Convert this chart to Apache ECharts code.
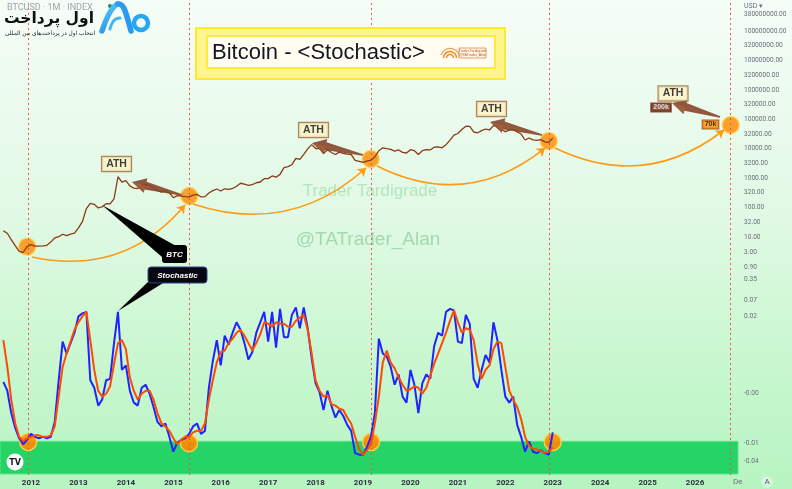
<!DOCTYPE html>
<html><head><meta charset="utf-8">
<script src="https://cdn.jsdelivr.net/npm/echarts@6/dist/echarts.min.js"></script>
<style>html,body{margin:0;padding:0;background:#fff}#c{width:792px;height:489px}</style>
</head><body><div id="c"></div>
<script>
// ---------- DATA ----------
const months = [
'2011-06','2011-07','2011-08','2011-09','2011-10','2011-11','2011-12',
'2012-01','2012-02','2012-03','2012-04','2012-05','2012-06','2012-07','2012-08','2012-09','2012-10','2012-11','2012-12',
'2013-01','2013-02','2013-03','2013-04','2013-05','2013-06','2013-07','2013-08','2013-09','2013-10','2013-11','2013-12',
'2014-01','2014-02','2014-03','2014-04','2014-05','2014-06','2014-07','2014-08','2014-09','2014-10','2014-11','2014-12',
'2015-01','2015-02','2015-03','2015-04','2015-05','2015-06','2015-07','2015-08','2015-09','2015-10','2015-11','2015-12',
'2016-01','2016-02','2016-03','2016-04','2016-05','2016-06','2016-07','2016-08','2016-09','2016-10','2016-11','2016-12',
'2017-01','2017-02','2017-03','2017-04','2017-05','2017-06','2017-07','2017-08','2017-09','2017-10','2017-11','2017-12',
'2018-01','2018-02','2018-03','2018-04','2018-05','2018-06','2018-07','2018-08','2018-09','2018-10','2018-11','2018-12',
'2019-01','2019-02','2019-03','2019-04','2019-05','2019-06','2019-07','2019-08','2019-09','2019-10','2019-11','2019-12',
'2020-01','2020-02','2020-03','2020-04','2020-05','2020-06','2020-07','2020-08','2020-09','2020-10','2020-11','2020-12',
'2021-01','2021-02','2021-03','2021-04','2021-05','2021-06','2021-07','2021-08','2021-09','2021-10','2021-11','2021-12',
'2022-01','2022-02','2022-03','2022-04','2022-05','2022-06','2022-07','2022-08','2022-09','2022-10','2022-11','2022-12',
'2023-01'];

const btcClose = [
16.1,13.4,8.2,5.1,3.25,2.97,4.72,
5.5,4.9,4.9,5.0,5.2,6.7,9.35,10.2,12.4,11.2,12.6,13.5,
20.4,33.4,93,139,129,97,106,135,133,198,1120,732,
829,550,458,446,560,600,560,470,386,338,378,320,
217,254,244,236,230,264,284,230,236,314,377,430,
368,437,416,448,531,673,624,575,609,700,742,963,
970,1190,1080,1348,2300,2480,2875,4700,4340,6470,9950,13850,
10220,10330,6930,9240,7500,6390,7730,7030,6630,6370,4040,3740,
3460,3810,4100,5320,8570,10820,10080,9600,8300,9150,7570,7190,
9350,8600,6440,8630,9450,9140,11350,11660,10780,13800,19700,28990,
33100,45200,58800,57700,37300,35000,41500,47100,43800,61300,57000,46300,
38500,43200,45500,37700,31800,19900,23300,20050,19400,20500,17200,16550,
23100];

const stochK = [
50,44,29,19,12,8,11,
15,13,12,13,12,13,23,51,77,69,76,83,
94,96,97,51,46,34,38,51,52,76,97,58,
61,44,36,34,46,48,42,33,23,20,22,13,
3,9,11,12,15,20,22,15,17,46,64,78,
61,81,75,83,90,85,76,65,70,83,90,97,
77,97,73,99,80,80,95,100,86,100,86,66,
49,43,31,44,34,26,31,27,21,17,2,1,
1,6,13,29,79,69,67,60,48,55,40,36,
58,48,29,49,55,52,74,83,81,97,99,98,
77,76,95,89,52,46,58,68,63,90,78,58,
40,36,40,21,13,3,10,3,2,4,2,1,
16];

const stochD = [
78,60,38,22,13,10,12,
13,14,14,13,13,14,20,40,60,69,77,85,
90,94,97,78,58,44,40,42,47,62,76,78,
72,53,44,38,42,44,44,38,29,22,20,17,
12,8,11,13,13,16,17,17,22,38,51,63,
70,71,76,79,83,85,81,76,71,76,82,90,
89,87,90,89,89,87,87,91,93,95,85,69,
51,44,40,41,35,34,32,31,26,22,13,5,
1,4,8,22,40,63,71,63,59,53,48,44,
45,47,46,42,46,54,62,69,76,83,91,98,
90,83,86,85,78,62,52,58,61,72,77,76,
60,44,38,33,25,13,7,5,4.5,3.4,2.2,2.9,
6];

const yearTicks = [2012,2013,2014,2015,2016,2017,2018,2019,2020,2021,2022,2023,2024,2025,2026];
const priceTickValues = [380000000,100000000,32000000,10000000,3200000,1000000,320000,100000,32000,10000,3200,1000,320,100,32,10,3,0.9,0.35,0.07,0.02];
const priceTickLabels = ['380000000.00','100000000.00','32000000.00','10000000.00','3200000.00','1000000.00','320000.00','100000.00','32000.00','10000.00','3200.00','1000.00','320.00','100.00','32.00','10.00','3.00','0.90','0.35','0.07','0.02'];
const stochTickValues = [42.3, 8.7, -3.4];
const stochTickLabels = ['-0.00','-0.01','-0.04'];

// annotations (data coordinates: decimal year, price / stochastic)
const cycleLowTimes = [2011.937, 2015.331, 2019.168, 2022.921, 2026.737];
const priceCircles = [[2011.92,4.7],[2015.337,248],[2019.162,4500],[2022.915,18400],[2026.752,64600]];
const stochCircles = [[2011.94,9.6],[2015.33,8.7],[2019.17,9.6],[2023.0,9.6]];
const cycleArcs = [
  [[2012.021,2.09],[2015.247,122.5],-0.30],
  [[2015.416,132.5],[2019.063,2223],-0.29],
  [[2019.295,2600],[2022.837,10640],-0.32],
  [[2023.048,10640],[2026.611,43600],-0.31]];
const athArrows = [
  [2015.184,268,2014.129,743],
  [2019.0,6150,2017.924,15740],
  [2022.774,29400,2021.678,81600],
  [2026.527,120800,2025.515,361000]];
const athLabels = [[2013.803,3040],[2017.956,43500],[2021.709,226000],[2025.536,760000]];
const targetLabels = [['200k',2025.283,254000],['70k',2026.326,67100]];

// ---------- BUILD ----------
const toYear = s => { const [y,m] = s.split('-').map(Number); return y + (m-1)/12; };
const tx = months.map(toYear);
const priceData = tx.map((t,i)=>[t, btcClose[i]]);
const kData = tx.map((t,i)=>[t, stochK[i]]);
const dData = tx.map((t,i)=>[t, stochD[i]]);

const X_MIN = 2011.346, X_MAX = 2026.948;
const P_MIN = Math.pow(10, -7.0952), P_MAX = Math.pow(10, 9.0612);

function priceLabel(v){
  let best = 0, bd = 1e9;
  priceTickValues.forEach((p,i)=>{ const d = Math.abs(Math.log10(p) - Math.log10(v)); if (d<bd){bd=d;best=i;} });
  return bd < 0.01 ? priceTickLabels[best] : '';
}
function stochLabel(v){
  let best = 0, bd = 1e9;
  stochTickValues.forEach((p,i)=>{ const d = Math.abs(p - v); if (d<bd){bd=d;best=i;} });
  return bd < 0.5 ? stochTickLabels[best] : '';
}

const chart = echarts.init(document.getElementById('c'), null, {renderer:'canvas'});
const FONT = 'Liberation Sans';
const blueGrad = {type:'linear',x:0,y:0,x2:1,y2:1,colorStops:[{offset:0,color:'#5fd0fb'},{offset:1,color:'#1e88e5'}]};

const option = {
  animation: false,
  backgroundColor: {type:'linear', x:0, y:0, x2:0, y2:1, colorStops:[
    {offset:0, color:'#f5fdf7'},{offset:0.45, color:'#e0f9e4'},{offset:0.65, color:'#cff8d5'},{offset:1, color:'#b7f4c1'}]},
  grid: [
    {left:0, right:52, top:0, bottom:14},
    {left:0, right:52, top:300, bottom:15}
  ],
  xAxis: [
    {type:'value', gridIndex:0, min:X_MIN, max:X_MAX,
     axisLine:{show:false}, axisTick:{show:false}, splitLine:{show:false},
     axisLabel:{customValues: yearTicks, formatter: v => String(Math.round(v)),
       fontSize:8, fontWeight:'bold', color:'#2a2e39', margin:4, fontFamily:'Roboto'}},
    {type:'value', gridIndex:1, min:X_MIN, max:X_MAX, show:false}
  ],
  yAxis: [
    {type:'log', gridIndex:0, position:'right', min:P_MIN, max:P_MAX,
     axisLine:{show:false}, axisTick:{show:false}, splitLine:{show:false},
     axisLabel:{customValues: priceTickValues, formatter: priceLabel, fontSize:6.6, color:'#6a6d78', margin:4, fontFamily:'Roboto'}},
    {type:'value', gridIndex:1, position:'right', min:-12, max:105,
     axisLine:{show:false}, axisTick:{show:false}, splitLine:{show:false},
     axisLabel:{customValues: stochTickValues, formatter: stochLabel, fontSize:6.6, color:'#6a6d78', margin:4, fontFamily:'Roboto'}}
  ],
  series: [
    {type:'line', xAxisIndex:1, yAxisIndex:1, data:[], z:1, silent:true,
     markArea:{silent:true, itemStyle:{color:'#26d365', borderColor:'#62e391', borderWidth:1},
       data:[[{yAxis:-12, xAxis:X_MIN},{yAxis:10, xAxis:2026.906}]]}},
    {type:'line', xAxisIndex:0, yAxisIndex:0, data:[], z:2, silent:true,
     markLine:{silent:true, symbol:'none', label:{show:false},
       lineStyle:{color:'#ef5350', type:[2,3], width:1},
       data: cycleLowTimes.map(t=>({xAxis:t}))}},
    {type:'scatter', xAxisIndex:0, yAxisIndex:0, data:priceCircles, symbolSize:17, z:3, silent:true,
     itemStyle:{color:'#ff8a00', borderColor:'#ffcf4a', borderWidth:1.5}},
    {type:'scatter', xAxisIndex:1, yAxisIndex:1, data:stochCircles, symbolSize:17, z:3, silent:true,
     itemStyle:{color:'#ff8a00', borderColor:'#ffcf4a', borderWidth:1.5, opacity:0.9}},
    {type:'lines', coordinateSystem:'cartesian2d', xAxisIndex:0, yAxisIndex:0, z:4, silent:true,
     symbol:['none','arrow'], symbolSize:8,
     lineStyle:{color:'#ff9a12', width:1.6, opacity:1},
     data: cycleArcs.map(a=>({coords:[a[0],a[1]], lineStyle:{curveness:a[2]}}))},
    {type:'line', name:'BTC', xAxisIndex:0, yAxisIndex:0, data:priceData, showSymbol:false, z:5,
     lineStyle:{color:'#8a3a14', width:1.3}},
    {type:'custom', xAxisIndex:0, yAxisIndex:0, z:6, silent:true, data:athArrows,
     encode:{x:[0,2], y:[1,3]},
     renderItem:(params, api)=>{
       const s = api.coord([api.value(0), api.value(1)]);
       const e = api.coord([api.value(2), api.value(3)]);
       const dx=e[0]-s[0], dy=e[1]-s[1], len=Math.hypot(dx,dy);
       const ux=dx/len, uy=dy/len, nx=-uy, ny=ux;
       const L=14, hw=7.5, sw=4, tw=0.8;
       const bx=e[0]-ux*L, by=e[1]-uy*L;
       const pts=[[s[0]+nx*tw,s[1]+ny*tw],[bx+nx*sw,by+ny*sw],[bx+nx*hw,by+ny*hw],[e[0],e[1]],
                  [bx-nx*hw,by-ny*hw],[bx-nx*sw,by-ny*sw],[s[0]-nx*tw,s[1]-ny*tw]];
       const pts2=[[s[0],s[1]],[bx-nx*sw*0.2,by-ny*sw*0.2],[bx-nx*hw,by-ny*hw],[e[0],e[1]]];
       return {type:'group', children:[
         {type:'polygon', shape:{points:pts}, style:{fill:'#86452a', opacity:0.9}},
         {type:'polygon', shape:{points:pts2}, style:{fill:'#a8663f', opacity:0.6}}
       ]};
     }},
    {type:'line', name:'%K', xAxisIndex:1, yAxisIndex:1, data:kData, showSymbol:false, z:7,
     lineStyle:{color:'#2222ff', width:2}},
    {type:'line', name:'%D', xAxisIndex:1, yAxisIndex:1, data:dData, showSymbol:false, z:8,
     lineStyle:{color:'#ff4a00', width:2}},
    {type:'scatter', xAxisIndex:0, yAxisIndex:0, z:9, silent:true, symbolSize:1,
     itemStyle:{color:'rgba(0,0,0,0)'},
     data: athLabels.map(p=>({value:p})),
     label:{show:true, position:'inside', formatter:'ATH', fontFamily:FONT, fontWeight:'bold', fontSize:10.5,
       color:'#111', backgroundColor:'#fdf3c6', borderColor:'#9c6a3c', borderWidth:1.2, padding:[2,4,1,4]}},
    {type:'scatter', xAxisIndex:0, yAxisIndex:0, z:9, silent:true, symbolSize:1,
     itemStyle:{color:'rgba(0,0,0,0)'},
     data: targetLabels.map((p,i)=>({value:[p[1],p[2]], name:p[0],
        label: i===0 ? {backgroundColor:'#6e2b12', color:'#fff', borderColor:'#6e2b12'}
                     : {backgroundColor:'#ff8c00', color:'#111', borderColor:'#8b4513'}})),
     label:{show:true, position:'inside', formatter:p=>p.name, fontFamily:FONT, fontWeight:'bold', fontSize:7,
       borderWidth:1, padding:[1,2,0,2]}}
  ],
  graphic: [
    {type:'text', z:1, silent:true, x:370, y:191, style:{text:'Trader Tardigrade', font:'17px '+FONT, fill:'#b4e5bc', align:'center', verticalAlign:'middle'}},
    {type:'text', z:1, silent:true, x:368, y:240, style:{text:'@TATrader_Alan', font:'19px '+FONT, fill:'#a3d9ae', align:'center', verticalAlign:'middle'}},
    {type:'rect', z:50, silent:true, shape:{x:196,y:28,width:309,height:51}, style:{fill:'#fff58f', stroke:'#ffe92e', lineWidth:2}},
    {type:'rect', z:51, silent:true, shape:{x:207,y:36,width:288,height:32}, style:{fill:'#fffdf2', stroke:'#ffeb3b', lineWidth:2}},
    {type:'text', z:52, silent:true, x:212, y:52.5, style:{text:'Bitcoin - <Stochastic>', font:'22px '+FONT, fill:'#131722', align:'left', verticalAlign:'middle'}},
    {type:'arc', z:52, silent:true, shape:{cx:450,cy:58,r:3.5,startAngle:Math.PI,endAngle:2*Math.PI}, style:{stroke:'#f08a24', lineWidth:1.5, fill:null}},
    {type:'arc', z:52, silent:true, shape:{cx:450,cy:58,r:6.5,startAngle:Math.PI,endAngle:2*Math.PI}, style:{stroke:'#f08a24', lineWidth:1.5, fill:null}},
    {type:'arc', z:52, silent:true, shape:{cx:450,cy:58,r:9.5,startAngle:Math.PI*1.1,endAngle:2*Math.PI}, style:{stroke:'#f5a04a', lineWidth:1.3, fill:null}},
    {type:'rect', z:52, silent:true, shape:{x:459,y:48,width:27,height:10}, style:{fill:'#fff6ea', stroke:'#d98a45', lineWidth:0.8}},
    {type:'text', z:53, silent:true, x:472.5, y:51, style:{text:'Trader Tardigrade', font:'3.5px '+FONT, fill:'#b35d1d', align:'center', verticalAlign:'middle'}},
    {type:'text', z:53, silent:true, x:472.5, y:55, style:{text:'@TATrader_Alan', font:'3.5px '+FONT, fill:'#b35d1d', align:'center', verticalAlign:'middle'}},
    {type:'polygon', z:60, silent:true, shape:{points:[[102,205],[178,247],[162,257]]}, style:{fill:'#000'}},
    {type:'rect', z:61, silent:true, shape:{x:162,y:245,width:25,height:18,r:3}, style:{fill:'#000'}},
    {type:'text', z:62, silent:true, x:174.5, y:254.5, style:{text:'BTC', font:'italic bold 8px '+FONT, fill:'#fff', align:'center', verticalAlign:'middle'}},
    {type:'polygon', z:60, silent:true, shape:{points:[[118,311],[150,280],[168,280]]}, style:{fill:'#000'}},
    {type:'rect', z:61, silent:true, shape:{x:148,y:267,width:59,height:16,r:3}, style:{fill:'#07070f', stroke:'#34449a', lineWidth:1}},
    {type:'text', z:62, silent:true, x:177.5, y:275.5, style:{text:'Stochastic', font:'italic bold 8px '+FONT, fill:'#fff', align:'center', verticalAlign:'middle'}},
    {type:'text', z:70, silent:true, x:7, y:7.5, style:{text:'BTCUSD · 1M · INDEX', font:'9px Roboto', fill:'#a0a3ac', align:'left', verticalAlign:'middle'}},
    {type:'circle', z:70, silent:true, shape:{cx:110,cy:6,r:2}, style:{fill:'#1e8e4e'}},
    {type:'text', z:71, silent:true, x:94, y:19, style:{text:'اول پرداخت', font:'bold 15.5px "DejaVu Sans"', fill:'#111', align:'right', verticalAlign:'middle'}},
    {type:'text', z:71, silent:true, x:95, y:33, style:{text:'انتخاب اول در پرداخت‌های بین المللی', font:'5.8px "DejaVu Sans"', fill:'#222', align:'right', verticalAlign:'middle'}},
    {type:'bezierCurve', z:72, silent:true, shape:{x1:102,y1:31,cpx1:106,cpy1:19,cpx2:112,cpy2:6,x2:118,y2:4},
     style:{fill:null, stroke:blueGrad, lineWidth:5.5, lineCap:'round'}},
    {type:'bezierCurve', z:72, silent:true, shape:{x1:118,y1:4,cpx1:124,cpy1:3,cpx2:126,cpy2:13,x2:131,y2:31},
     style:{fill:null, stroke:'#2a9bef', lineWidth:5.5, lineCap:'round'}},
    {type:'bezierCurve', z:72, silent:true, shape:{x1:110,y1:29,cpx1:111,cpy1:24,cpx2:114,cpy2:18,x2:120,y2:18},
     style:{fill:null, stroke:'#3fb5f5', lineWidth:3, lineCap:'round'}},
    {type:'circle', z:72, silent:true, shape:{cx:141,cy:23,r:7}, style:{fill:null, stroke:'#29a6f2', lineWidth:4.5}},
    {type:'circle', z:70, silent:true, shape:{cx:15,cy:462,r:8.5}, style:{fill:'#fff'}},
    {type:'text', z:71, silent:true, x:15, y:462.5, style:{text:'TV', font:'bold 8px "DejaVu Sans"', fill:'#131722', align:'center', verticalAlign:'middle'}},
    {type:'text', z:70, silent:true, x:744, y:6, style:{text:'USD ▾', font:'7px Roboto', fill:'#6a6d78', align:'left', verticalAlign:'middle'}},
    {type:'text', z:70, silent:true, x:733, y:482, style:{text:'De', font:'8px Roboto', fill:'#6a6d78', align:'left', verticalAlign:'middle'}},
    {type:'circle', z:70, silent:true, shape:{cx:767,cy:482,r:6}, style:{fill:'#d3f8d8'}},
    {type:'text', z:71, silent:true, x:767, y:482, style:{text:'A', font:'8px Roboto', fill:'#5d606b', align:'center', verticalAlign:'middle'}}
  ]
};
chart.setOption(option);
</script>
</body></html>
